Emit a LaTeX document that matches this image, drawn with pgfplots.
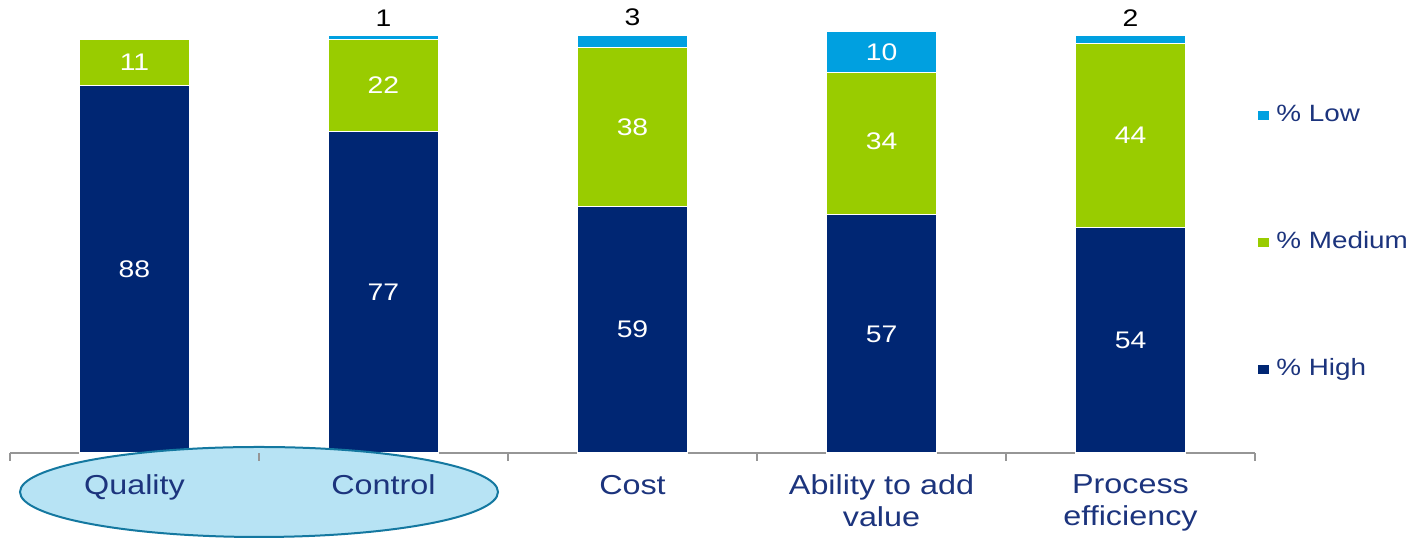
\documentclass[border=0pt]{standalone}
\usepackage{fontspec}
\setmainfont{Liberation Sans}[FakeStretch=1.18]
\usepackage{pgfplots}
\pgfplotsset{compat=1.18}
\definecolor{navybar}{RGB}{0,38,115}
\definecolor{greenbar}{RGB}{153,204,0}
\definecolor{lowbar}{RGB}{0,160,224}
\definecolor{navytext}{RGB}{28,52,125}
\definecolor{axisgray}{RGB}{150,150,150}
\definecolor{ellfill}{RGB}{183,227,244}
\definecolor{ellborder}{RGB}{20,120,160}
\pgfplotsset{
  base/.style={scale only axis, width=622.5pt, height=226.5pt,
    xmin=-0.5, xmax=4.5, ymin=0, ymax=108.4, clip=false},
}
\begin{document}
\begin{tikzpicture}
% axis 1: bars, axis line, legend
\begin{axis}[
  base,
  ybar stacked, bar width=55pt,
  axis x line*=bottom, axis y line=none,
  x axis line style={draw=axisgray, line width=1pt},
  xtick=\empty,
  reverse legend,
  legend style={at={(rel axis cs:1.0024,0.768)}, anchor=north west, draw=none, fill=none,
    inner sep=0pt, row sep=53.5pt,
    font=\fontsize{11.8}{13}\selectfont, text=navytext,
    nodes={inner sep=0pt, text height=8pt, text depth=2pt},
    /tikz/every odd column/.style={column sep=3.5pt}},
  legend cell align=left,
  legend image code/.code={\fill[#1,draw=none] (0pt,-2.2pt) rectangle (5.5pt,2.2pt);},
]
\addplot[fill=navybar, draw=white, line width=0.6pt] coordinates {(0,88) (1,77) (2,59) (3,57) (4,54)};
\addlegendentry{\% High}
\addplot[fill=greenbar, draw=white, line width=0.6pt] coordinates {(0,11) (1,22) (2,38) (3,34) (4,44)};
\addlegendentry{\% Medium}
\addplot[fill=lowbar, draw=white, line width=0.6pt] coordinates {(0,0) (1,1) (2,3) (3,10) (4,2)};
\addlegendentry{\% Low}
\path (rel axis cs:-0.00803,-0.1898) rectangle (rel axis cs:1.1245,1);
\end{axis}
% axis 2: ellipse
\begin{axis}[base, axis lines=none]
\draw[draw=ellborder, fill=ellfill, line width=1pt] (axis cs:0.5,-9.33) ellipse [x radius=119.5pt, y radius=22.5pt];
\end{axis}
% axis 3: ticks, tick labels, data labels
\begin{axis}[
  base,
  axis x line*=bottom, axis y line=none,
  x axis line style={draw=none},
  xtick={0,1,2,3,4},
  xticklabels={Quality,Control,Cost,{Ability to add\\value},{Process\\efficiency}},
  major tick length=0pt,
  minor xtick={-0.5,0.5,1.5,2.5,3.5,4.5},
  minor tick length=4pt,
  tick align=outside,
  minor tick style={draw=axisgray, line width=0.8pt},
  xticklabel style={align=center, font=\fontsize{13.7}{16}\selectfont, text=navytext, yshift=-7.5pt},
]
\addplot[draw=none, mark=none, nodes near coords, point meta=explicit symbolic,
  every node near coord/.style={anchor=center, text=white, font=\fontsize{12}{14}\selectfont}]
  coordinates {(0,44) [88] (1,38.5) [77] (2,29.5) [59] (3,28.5) [57] (4,27) [54]
               (0,93.5) [11] (1,88) [22] (2,78) [38] (3,74.5) [34] (4,76) [44]
               (3,96) [10]};
\addplot[draw=none, mark=none, nodes near coords, point meta=explicit symbolic,
  every node near coord/.style={anchor=south, text=black, yshift=1pt, font=\fontsize{12}{14}\selectfont}]
  coordinates {(1,100) [1] (2,100) [3] (4,100) [2]};
\end{axis}
\end{tikzpicture}
\end{document}
